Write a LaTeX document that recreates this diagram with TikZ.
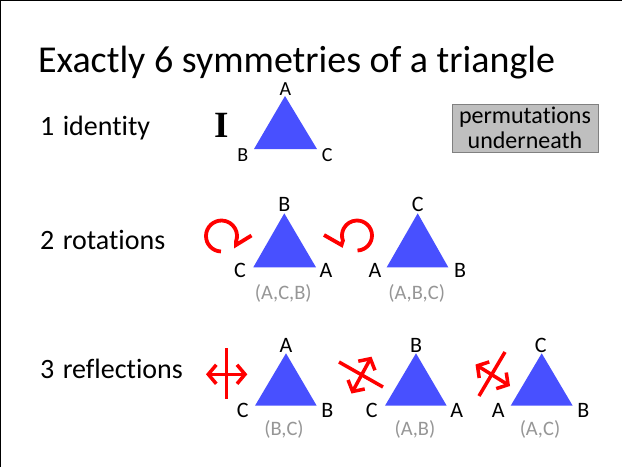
\documentclass[tikz,border=0pt]{standalone}
\usepackage{fontspec}
\setmainfont{Carlito}[Ligatures = NoCommon]
\newfontfamily\serifletter{Liberation Serif}
\usetikzlibrary{arrows.meta}
\definecolor{triblue}{RGB}{72,80,255}
\definecolor{symred}{RGB}{255,0,0}
\definecolor{permgray}{RGB}{150,150,150}
\definecolor{boxgray}{RGB}{191,191,191}
\definecolor{boxline}{RGB}{128,128,128}

\begin{document}
\begin{tikzpicture}[
    x = 1pt, y = -1pt,
    every node/.style = {inner sep = 0pt},
    heading/.style  = {anchor = base west, font = \fontsize{38}{45}\selectfont},
    rowtitle/.style = {anchor = base west, font = \fontsize{28}{34}\selectfont},
    vertex/.style   = {font = \fontsize{22}{26}\selectfont},
    smallvertex/.style = {font = \fontsize{20}{24}\selectfont},
    permlabel/.style = {font = \fontsize{20.5}{24}\selectfont, text = permgray},
    permbox/.style  = {draw = boxline, fill = boxgray, minimum width = 146pt,
                       minimum height = 48pt, align = center,
                       font = \fontsize{24}{25}\selectfont},
    tri/.style      = {fill = triblue},
    rotarrow/.style = {symred, line width = 3.8pt, line join = miter},
    reflline/.style = {symred, line width = 3.5pt},
    reflarrow/.style = {symred, line width = 3.5pt,
                       {Straight Barb[length = 8pt, width = 19pt]}-{Straight Barb[length = 8pt, width = 19pt]}}
  ]
  \useasboundingbox (0, 0) rectangle (622, 467);
  \draw[line width = 1pt] (0.5, 467) -- (0.5, 0.5) -- (622, 0.5);
  % headings
  \node[heading]  (title) at (38, 72)  {Exactly 6 symmetries of a triangle};
  \node[rowtitle] (ident) at (40, 135) {1\hspace{.3em}identity};
  \node[rowtitle] (rot)   at (40, 249) {2\hspace{.3em}rotations};
  \node[rowtitle] (refl)  at (40, 378) {3\hspace{.3em}reflections};
  \node[permbox]  (perm)  at (525, 128) {permutations\\underneath};
  % the identity
  \node[font = \fontsize{37}{40}\selectfont\serifletter\bfseries] (id) at (221.7, 125.8) {I};
  \fill[tri] (285, 96) -- (254, 149) -- (317, 149) -- cycle;
  \node[smallvertex] (a0) at (285.3, 89)  {A};
  \node[smallvertex] (b0) at (242.8, 154.7) {B};
  \node[smallvertex] (c0) at (327.3, 154.7) {C};
  % the rotations
  \fill[tri] (284.3, 213.3) -- (253.3, 267.3) -- (316, 267.3) -- cycle;
  \node[vertex] (b1) at (284.3, 204) {B};
  \node[vertex] (c1) at (240, 270)   {C};
  \node[vertex] (a1) at (326, 270)   {A};
  \node[permlabel] (p1) at (283.3, 293.3) {(A,C,B)};
  \fill[tri] (417.7, 213.3) -- (386.7, 267.3) -- (448.3, 267.3) -- cycle;
  \node[vertex] (c2) at (417.7, 204) {C};
  \node[vertex] (a2) at (375, 270)   {A};
  \node[vertex] (b2) at (460, 270)   {B};
  \node[permlabel] (p2) at (416.7, 293.3) {(A,B,C)};
  \draw[rotarrow] (221.5, 236) ++(92:15.5) arc[start angle = 92, end angle = 380, radius = 15.5]
                  -- (236, 245) -- (251.5, 235.5);
  \draw[rotarrow] (357, 235.5) ++(88:15) arc[start angle = 88, end angle = -200, radius = 15]
                  -- (341.5, 245) -- (324, 235);
  % the reflections
  \fill[tri] (286, 353.3) -- (255, 405.7) -- (316.7, 405.7) -- cycle;
  \node[vertex] (a3) at (286, 345.7)   {A};
  \node[vertex] (c3) at (242.7, 410)   {C};
  \node[vertex] (b3) at (327.3, 410)   {B};
  \node[permlabel] (p3) at (284, 429) {(B,C)};
  \fill[tri] (416, 353.3) -- (385, 405.7) -- (446.7, 405.7) -- cycle;
  \node[vertex] (b4) at (416, 345.7)   {B};
  \node[vertex] (c4) at (371.7, 410)   {C};
  \node[vertex] (a4) at (456.7, 410)   {A};
  \node[permlabel] (p4) at (415, 429) {(A,B)};
  \fill[tri] (541.7, 353.3) -- (510.7, 405.7) -- (572.7, 405.7) -- cycle;
  \node[vertex] (c5) at (540.7, 345.7) {C};
  \node[vertex] (a5) at (498.3, 410)   {A};
  \node[vertex] (b5) at (583.3, 410)   {B};
  \node[permlabel] (p5) at (540, 429) {(A,C)};
  \draw[reflline]  (226.7, 348) -- (226.7, 399);
  \draw[reflarrow] (206, 374.3) -- (247.3, 374.3);
  \draw[reflline]  (339, 362) -- (383, 387);
  \draw[reflarrow] (351.5, 393.5) -- (371.5, 356.7);
  \draw[reflline]  (505, 352) -- (479, 396);
  \draw[reflarrow] (475.5, 364.5) -- (510, 386);
\end{tikzpicture}
\end{document}
